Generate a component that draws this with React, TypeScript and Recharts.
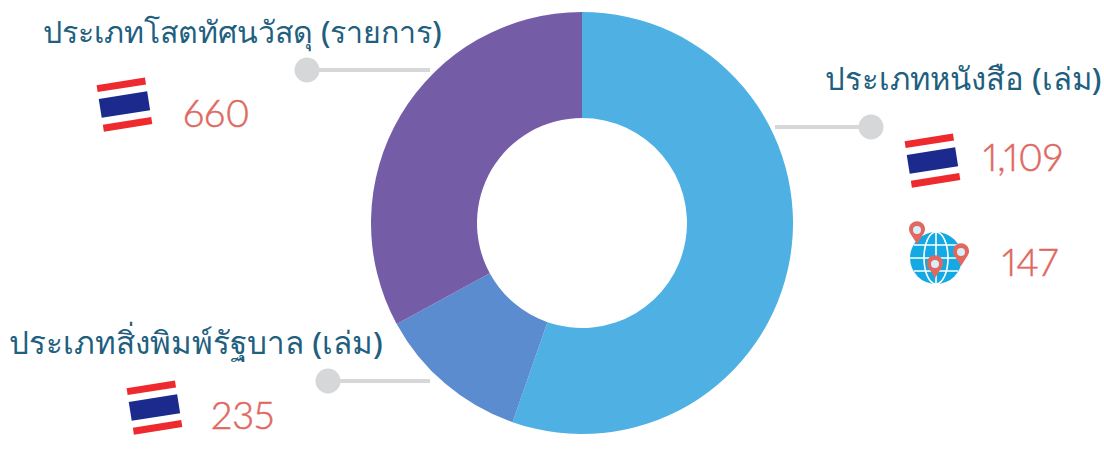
import React from 'react';
import { PieChart, Pie, Cell } from 'recharts';

const CATEGORIES = ['ประเภทหนังสือ (เล่ม)', 'ประเภทสิ่งพิมพ์รัฐบาล (เล่ม)', 'ประเภทโสตทัศนวัสดุ (รายการ)'];
const THAI_COUNTS = [1109, 235, 660];
const FOREIGN_BOOKS = [147];
const COLORS = ['#4FB0E3', '#5B8CCF', '#745DA6'];

const chartData = CATEGORIES.map((name, i) => ({ name, value: THAI_COUNTS[i] }));

const titleStyle: React.CSSProperties = { fontFamily: '"Noto Sans", "DejaVu Sans", sans-serif', fontSize: 31, fontWeight: 500, fill: '#1F5F80' };
const numberStyle: React.CSSProperties = { fontFamily: 'Lato, sans-serif', fontSize: 38, fontWeight: 300, fill: '#E0685F', stroke: '#E0685F', strokeWidth: 0.5, fontVariantNumeric: 'proportional-nums', fontFeatureSettings: '"pnum"' };

// small waving thai flag, drawn tilted a little
const Flag = ({ x, y }: { x: number; y: number }) => (
  <g transform={`translate(${x} ${y}) rotate(-9)`}>
    <rect x={-25} y={-24} width={49} height={7} fill="#EE2A2E" />
    <rect x={-25} y={-10} width={49} height={19} fill="#1B2A8C" />
    <rect x={-25} y={16} width={49} height={7} fill="#EE2A2E" />
  </g>
);

const Pin = ({ x, y }: { x: number; y: number }) => (
  <g>
    <path d={`M${x} ${y + 14} L${x - 7} ${y + 3} A8 8 0 1 1 ${x + 7} ${y + 3} Z`} fill="#E0685F" />
    <circle cx={x} cy={y} r={4} fill="#D8EEF8" />
  </g>
);

const Globe = ({ x, y }: { x: number; y: number }) => (
  <g>
    <circle cx={x} cy={y} r={26} fill="#14A9E3" />
    <g stroke="#fff" strokeWidth={1.6} fill="none">
      <ellipse cx={x} cy={y} rx={12} ry={26} />
      <line x1={x} y1={y - 26} x2={x} y2={y + 26} />
      <line x1={x - 26} y1={y} x2={x + 26} y2={y} />
      <line x1={x - 22} y1={y - 13} x2={x + 22} y2={y - 13} />
      <line x1={x - 22} y1={y + 13} x2={x + 22} y2={y + 13} />
    </g>
    <Pin x={x - 19} y={y - 28} />
    <Pin x={x + 25} y={y - 6} />
    <Pin x={x - 1} y={y + 6} />
  </g>
);

const Leader = ({ x1, x2, y }: { x1: number; x2: number; y: number }) => (
  <g>
    <line x1={x1} y1={y} x2={x2} y2={y} stroke="#D6D7D9" strokeWidth={4} />
    <circle cx={x1} cy={y} r={12.5} fill="#D6D7D9" />
  </g>
);

export default function App() {
  return (
    <div style={{ position: 'absolute', left: 0, top: 0, width: 1104, height: 450, background: '#fff' }}>
      <div style={{ position: 'absolute', left: 0, top: 0 }}>
        <PieChart width={1104} height={450} margin={{ top: 0, right: 0, bottom: 0, left: 0 }}>
          <Pie
            data={chartData}
            dataKey="value"
            cx={582}
            cy={223}
            innerRadius={105}
            outerRadius={211}
            startAngle={90}
            endAngle={-270}
            stroke="none"
            isAnimationActive={false}
          >
            {chartData.map((entry, index) => (
              <Cell key={`cell-${index}`} fill={COLORS[index]} />
            ))}
          </Pie>
        </PieChart>
      </div>
      <svg width={1104} height={450} style={{ position: 'absolute', left: 0, top: 0, pointerEvents: 'none' }}>
        <Leader x1={871} x2={775} y={127} />
        <Leader x1={307} x2={430} y={70} />
        <Leader x1={328} x2={430} y={381} />

        <text x={825} y={90} style={titleStyle}>{CATEGORIES[0]}</text>
        <text x={43} y={43} style={{ ...titleStyle, fontSize: 30.3 }}>{CATEGORIES[2]}</text>
        <text x={9} y={354} style={{ ...titleStyle, fontSize: 31.4 }}>{CATEGORIES[1]}</text>

        <Flag x={933} y={161} />
        <Flag x={125} y={105} />
        <Flag x={155} y={408} />
        <Globe x={936} y={258} />

        <text x={983} y={171} style={numberStyle}>{THAI_COUNTS[0].toLocaleString('en-US')}</text>
        <text x={1002} y={276} style={numberStyle}>{FOREIGN_BOOKS[0]}</text>
        <text x={183} y={127} style={numberStyle}>{THAI_COUNTS[2]}</text>
        <text x={211} y={429} style={numberStyle}>{THAI_COUNTS[1]}</text>
      </svg>
    </div>
  );
}
